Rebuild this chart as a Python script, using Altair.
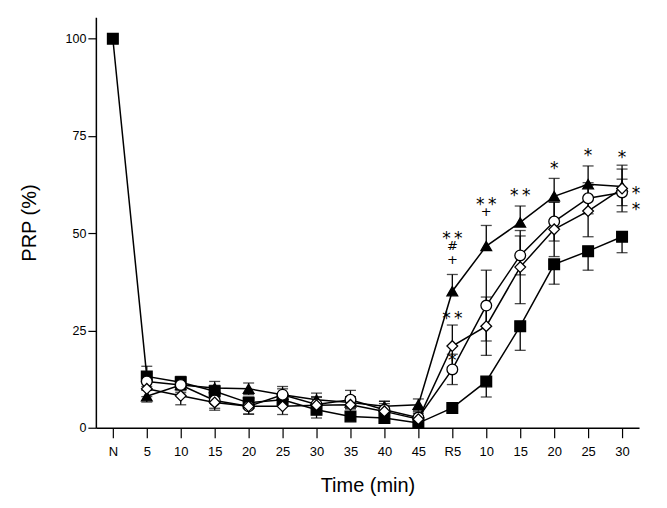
import altair as alt
import pandas as pd

cats = ["N", "5", "10", "15", "20", "25", "30", "35", "40", "45",
        "R5", "R10", "R15", "R20", "R25", "R30"]

square = [100, 13.2, 11.7, 9.4, 6.4, 7.2, 4.6, 2.9, 2.5, 1.2, 5.1, 11.9, 26.1, 42.0, 45.4, 49.1]
square_hi = [0, 2.6, 1.5, 1.5, 1.5, 1.5, 1.5, 1.0, 1.0, 0, 0, 0, 0, 0, 0, 0]
square_lo = [0, 2.6, 1.5, 1.5, 1.5, 1.5, 2.1, 1.0, 1.0, 1.0, 1.0, 4.0, 6.2, 5.1, 4.9, 4.1]

triangle = [None, 8.1, 11.0, 10.2, 10.0, 8.5, 7.2, 6.5, 5.5, 5.9, 35.1, 46.7, 52.8, 59.5, 62.6, 62.0]
triangle_hi = [0, 1.5, 1.5, 1.7, 1.5, 1.5, 1.7, 1.5, 1.3, 1.5, 4.3, 5.3, 4.2, 4.6, 4.7, 4.5]
triangle_lo = [0, 1.5, 1.5, 1.5, 1.5, 1.5, 1.5, 1.5, 1.3, 1.5, 0, 0, 0, 0, 0, 0]

circle = [None, 11.9, 11.0, 7.0, 5.5, 8.5, 6.0, 7.2, 4.6, 2.6, 15.0, 31.4, 44.3, 53.0, 59.0, 60.5]
circle_err = [0, 2.0, 2.0, 2.0, 2.0, 2.1, 2.0, 2.4, 2.2, 1.5, 3.9, 9.1, 5.0, 5.0, 4.0, 3.4]

diamond = [None, 10.0, 8.2, 6.5, 5.5, 5.5, 5.8, 5.9, 4.2, 2.2, 21.0, 26.1, 41.3, 51.0, 55.7, 61.5]
diamond_err = [0, 2.0, 2.3, 2.0, 2.0, 2.1, 2.0, 2.0, 2.0, 1.5, 5.4, 7.5, 9.4, 7.0, 6.6, 6.0]

y_ticks = [0, 25, 50, 75, 100]

star_x = ["R5", "R5", "R5", "R10", "R15", "R20", "R25", "R30"]
star_y = [49.6, 28.9, 18.3, 58.3, 60.6, 67.6, 70.9, 70.4]
star_t = ["*\u2009*", "*\u2009*", "*", "*\u2009*", "*\u2009*", "*", "*", "*"]

sym_x = ["R5", "R5", "R10"]
sym_y = [46.6, 43.2, 55.5]
sym_t = ["#", "+", "+"]

side_x = ["R30", "R30"]
side_y = [61.1, 57.0]
side_t = ["*", "*"]

series = {
    "square": (square, square_lo, square_hi),
    "triangle": (triangle, triangle_lo, triangle_hi),
    "circle": (circle, circle_err, circle_err),
    "diamond": (diamond, diamond_err, diamond_err),
}

rows = []
for name, (vals, lo, hi) in series.items():
    for i, c in enumerate(cats):
        v = vals[i]
        if v is None:
            continue
        rows.append({"series": name, "time": c, "idx": i, "value": v,
                     "lo": v - lo[i], "hi": v + hi[i],
                     "has_lo": lo[i] > 0, "has_hi": hi[i] > 0})
df = pd.DataFrame(rows)

stars = pd.DataFrame({"time": star_x, "value": star_y, "t": star_t})
syms = pd.DataFrame({"time": sym_x, "value": sym_y, "t": sym_t})
side = pd.DataFrame({"time": side_x, "value": side_y, "t": side_t})

xscale = alt.Scale(domain=cats, type="point", padding=0.5)
yscale = alt.Scale(domain=[0, 105.5], nice=False)

x = alt.X("time:O", scale=xscale, sort=cats,
          axis=alt.Axis(title="Time (min)",
                        labelExpr="datum.value == 'R5' ? 'R5' : replace(datum.value, 'R', '')",
                        labelAngle=0, labelFontSize=13, labelPadding=8,
                        tickSize=10, titleFontSize=20, titlePadding=17,
                        titleFontWeight="normal"))
y = alt.Y("value:Q", scale=yscale,
          axis=alt.Axis(title="PRP (%)", values=y_ticks, labelFontSize=12.5,
                        tickSize=8, labelPadding=2, titleFontSize=20,
                        titlePadding=26, titleFontWeight="normal"))

base = alt.Chart(df)
xp = alt.X("time:O", scale=xscale, sort=cats)

lines = base.mark_line(color="black", strokeWidth=1.5).encode(
    x=x, y=y, detail="series:N", order="idx:Q")

bars = base.mark_rule(color="black", strokeWidth=1.3).encode(
    x=xp, y=alt.Y("lo:Q", scale=yscale), y2="hi:Q")

cap_hi = base.transform_filter("datum.has_hi").mark_tick(
    color="black", thickness=1.3, size=11, orient="horizontal").encode(
    x=xp, y=alt.Y("hi:Q", scale=yscale))

cap_lo = base.transform_filter("datum.has_lo").mark_tick(
    color="black", thickness=1.3, size=11, orient="horizontal").encode(
    x=xp, y=alt.Y("lo:Q", scale=yscale))

points = base.mark_point(filled=True, stroke="black", strokeWidth=1.3,
                         opacity=1, size=115).encode(
    x=xp,
    y=alt.Y("value:Q", scale=yscale),
    shape=alt.Shape("series:N", legend=None,
                    scale=alt.Scale(domain=["square", "triangle", "circle", "diamond"],
                                    range=["square", "triangle-up", "circle", "diamond"])),
    fill=alt.Fill("series:N", legend=None,
                  scale=alt.Scale(domain=["square", "triangle", "circle", "diamond"],
                                  range=["black", "black", "white", "white"])),
)

star_text = alt.Chart(stars).mark_text(font="DejaVu Sans", fontSize=17,
                                       color="black", baseline="middle", dy=4).encode(
    x=xp, y=alt.Y("value:Q", scale=yscale), text="t:N")

sym_text = alt.Chart(syms).mark_text(font="DejaVu Sans", fontSize=13,
                                     color="black", baseline="middle").encode(
    x=xp, y=alt.Y("value:Q", scale=yscale), text="t:N")

side_text = alt.Chart(side).mark_text(font="DejaVu Sans", fontSize=17,
                                      color="black", baseline="middle", dx=14, dy=4).encode(
    x=xp, y=alt.Y("value:Q", scale=yscale), text="t:N")

chart = alt.layer(lines, bars, cap_hi, cap_lo, points, star_text, sym_text, side_text).properties(
    width=544, height=411,
    autosize=alt.AutoSizeParams(type="none"),
    padding={"left": 88, "top": 9, "right": 20, "bottom": 70},
    background="white",
).configure_view(stroke=None).configure_axis(
    grid=False, domainColor="black", tickColor="black", domainWidth=1.5,
    tickWidth=1.2, labelColor="black", titleColor="black",
    labelFont="Liberation Sans", titleFont="Liberation Sans",
)

chart.save("out.html", embed_options={"renderer": "svg", "actions": False})
